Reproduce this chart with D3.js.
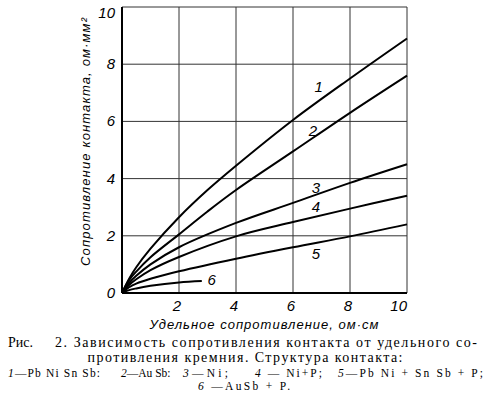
<!DOCTYPE html>
<html>
<head>
<meta charset="utf-8">
<script src="https://cdn.jsdelivr.net/npm/d3@7"></script>
<style>
  body { margin: 0; background: #fff; }
  svg { display: block; }
  .tick-lbl { font-family: "Liberation Sans", Arial, sans-serif; font-style: italic; font-size: 15px; }
  .axis-title { font-family: "Liberation Sans", Arial, sans-serif; font-style: italic; font-size: 13px; }
  .cap { font-family: "Liberation Serif", "Times New Roman", serif; }
</style>
</head>
<body>
<div id="chart"></div>
<script>
// x: specific resistance of silicon, ohm*cm ; y: contact resistance, ohm*mm^2
const xTicks = [2, 4, 6, 8, 10];
const yTicks = [0, 2, 4, 6, 8, 10];
const curveNames = ['1', '2', '3', '4', '5', '6'];

const curve1 = [[0,0],[0.25,0.5],[0.5,0.9],[1,1.55],[2,2.65],[3,3.6],[4,4.45],[6,6.05],[8,7.5],[10,8.9]];
const curve2 = [[0,0],[0.25,0.45],[0.5,0.75],[1,1.25],[2,2.05],[3,2.85],[4,3.6],[6,4.95],[8,6.3],[10,7.6]];
const curve3 = [[0,0],[0.25,0.35],[0.5,0.6],[1,1.0],[2,1.6],[4,2.45],[6,3.15],[8,3.85],[10,4.5]];
const curve4 = [[0,0],[0.25,0.28],[0.5,0.48],[1,0.8],[2,1.26],[4,1.98],[6,2.48],[8,2.95],[10,3.4]];
const curve5 = [[0,0],[0.25,0.2],[0.5,0.33],[1,0.5],[2,0.76],[4,1.2],[6,1.6],[8,1.98],[10,2.4]];
const curve6 = [[0,0],[0.25,0.1],[0.5,0.16],[1,0.25],[2,0.37],[2.8,0.42]];

// where the numbers sit next to each curve (data units)
const labelPos = [[6.9,7.2],[6.7,5.66],[6.8,3.67],[6.8,3.0],[6.8,1.36],[3.15,0.45]];

const captionLine1 = ['Рис.', '2. Зависимость сопротивления контакта от удельного со-'];
const captionLine2 = 'противления кремния. Структура контакта:';
const legendNums = ['1', '2', '3', '4', '5'];
const legendText = ['—Pb Ni Sn Sb:', '—Au Sb:', '—Ni;', ' — Ni+P;', '—Pb Ni + Sn Sb + P;'];
const legendLast = ['6', ' —AuSb + P.'];

const width = 491, height = 397;
const svg = d3.select('#chart').append('svg')
  .attr('width', width)
  .attr('height', height);

const x = d3.scaleLinear().domain([0, 10]).range([122, 407]);
const y = d3.scaleLinear().domain([0, 10]).range([293, 7]);

// grid
svg.append('g').selectAll('line.v')
  .data(xTicks)
  .enter().append('line')
  .attr('x1', d => x(d)).attr('x2', d => x(d))
  .attr('y1', y(0)).attr('y2', y(10))
  .attr('stroke', '#333').attr('stroke-width', 1);

svg.append('g').selectAll('line.h')
  .data(yTicks.filter(d => d > 0))
  .enter().append('line')
  .attr('x1', x(0)).attr('x2', x(10))
  .attr('y1', d => y(d)).attr('y2', d => y(d))
  .attr('stroke', '#333').attr('stroke-width', 1);

// axes frame (left + bottom heavier)
svg.append('line')
  .attr('x1', x(0)).attr('x2', x(0)).attr('y1', y(0)).attr('y2', y(10))
  .attr('stroke', '#000').attr('stroke-width', 2);
svg.append('line')
  .attr('x1', x(0)).attr('x2', x(10)).attr('y1', y(0)).attr('y2', y(0))
  .attr('stroke', '#000').attr('stroke-width', 2);

// tick labels (top one sits a bit lower so it stays inside)
svg.append('g').selectAll('text')
  .data(yTicks)
  .enter().append('text')
  .attr('class', 'tick-lbl')
  .attr('x', x(0) - 7)
  .attr('y', d => d === 10 ? y(d) + 11 : y(d) + 5)
  .attr('text-anchor', 'end')
  .text(d => d);

svg.append('g').selectAll('text')
  .data(xTicks)
  .enter().append('text')
  .attr('class', 'tick-lbl')
  .attr('x', d => d === 10 ? x(d) : x(d) - 2)
  .attr('y', y(0) + 18)
  .attr('text-anchor', d => d === 10 ? 'end' : 'middle')
  .text(d => d);

// curves
const line = d3.line()
  .x(d => x(d[0]))
  .y(d => y(d[1]))
  .curve(d3.curveCatmullRom.alpha(0.5));

const curves = [curve1, curve2, curve3, curve4, curve5, curve6];
svg.append('g').selectAll('path')
  .data(curves)
  .enter().append('path')
  .attr('d', line)
  .attr('fill', 'none')
  .attr('stroke', '#000')
  .attr('stroke-width', 2);

svg.append('g').selectAll('text')
  .data(curveNames)
  .enter().append('text')
  .attr('class', 'tick-lbl')
  .attr('font-size', 14)
  .attr('x', (d, i) => x(labelPos[i][0]))
  .attr('y', (d, i) => y(labelPos[i][1]) + 5)
  .attr('text-anchor', 'middle')
  .text(d => d);

// axis titles
svg.append('text')
  .attr('class', 'axis-title')
  .attr('transform', 'translate(90,142) rotate(-90)')
  .attr('text-anchor', 'middle')
  .attr('textLength', 248)
  .attr('lengthAdjust', 'spacing')
  .text('Сопротивление контакта, ом·мм²');

svg.append('text')
  .attr('class', 'axis-title')
  .attr('x', 264)
  .attr('y', 329)
  .attr('text-anchor', 'middle')
  .attr('textLength', 229)
  .attr('lengthAdjust', 'spacing')
  .text('Удельное сопротивление, ом·см');

// caption
const cap = svg.append('g').attr('class', 'cap');
cap.append('text').attr('x', 8).attr('y', 347).attr('font-size', 14)
  .text(captionLine1[0]);
cap.append('text').attr('x', 55).attr('y', 347).attr('font-size', 14)
  .attr('textLength', 422).attr('lengthAdjust', 'spacing')
  .text(captionLine1[1]);
cap.append('text').attr('x', 245).attr('y', 362).attr('font-size', 14)
  .attr('text-anchor', 'middle')
  .attr('textLength', 315).attr('lengthAdjust', 'spacing')
  .text(captionLine2);

// legend entries: start x and wanted width of each one; only stretch, never squeeze
const legX = [8, 121, 183, 255, 338];
const legW = [92, 47, 45, 67, 145];
function fitText(t, w) {
  if (t.node().getComputedTextLength() < w) {
    t.attr('textLength', w).attr('lengthAdjust', 'spacing');
  }
}
legendNums.forEach((n, i) => {
  const t = cap.append('text').attr('x', legX[i]).attr('y', 377).attr('font-size', 11.5);
  t.append('tspan').attr('font-style', 'italic').text(n);
  t.append('tspan').text(legendText[i]);
  fitText(t, legW[i]);
});
const leg2 = cap.append('text').attr('x', 198).attr('y', 390).attr('font-size', 11.5);
leg2.append('tspan').attr('font-style', 'italic').text(legendLast[0]);
leg2.append('tspan').text(legendLast[1]);
fitText(leg2, 92);
</script>
</body>
</html>
